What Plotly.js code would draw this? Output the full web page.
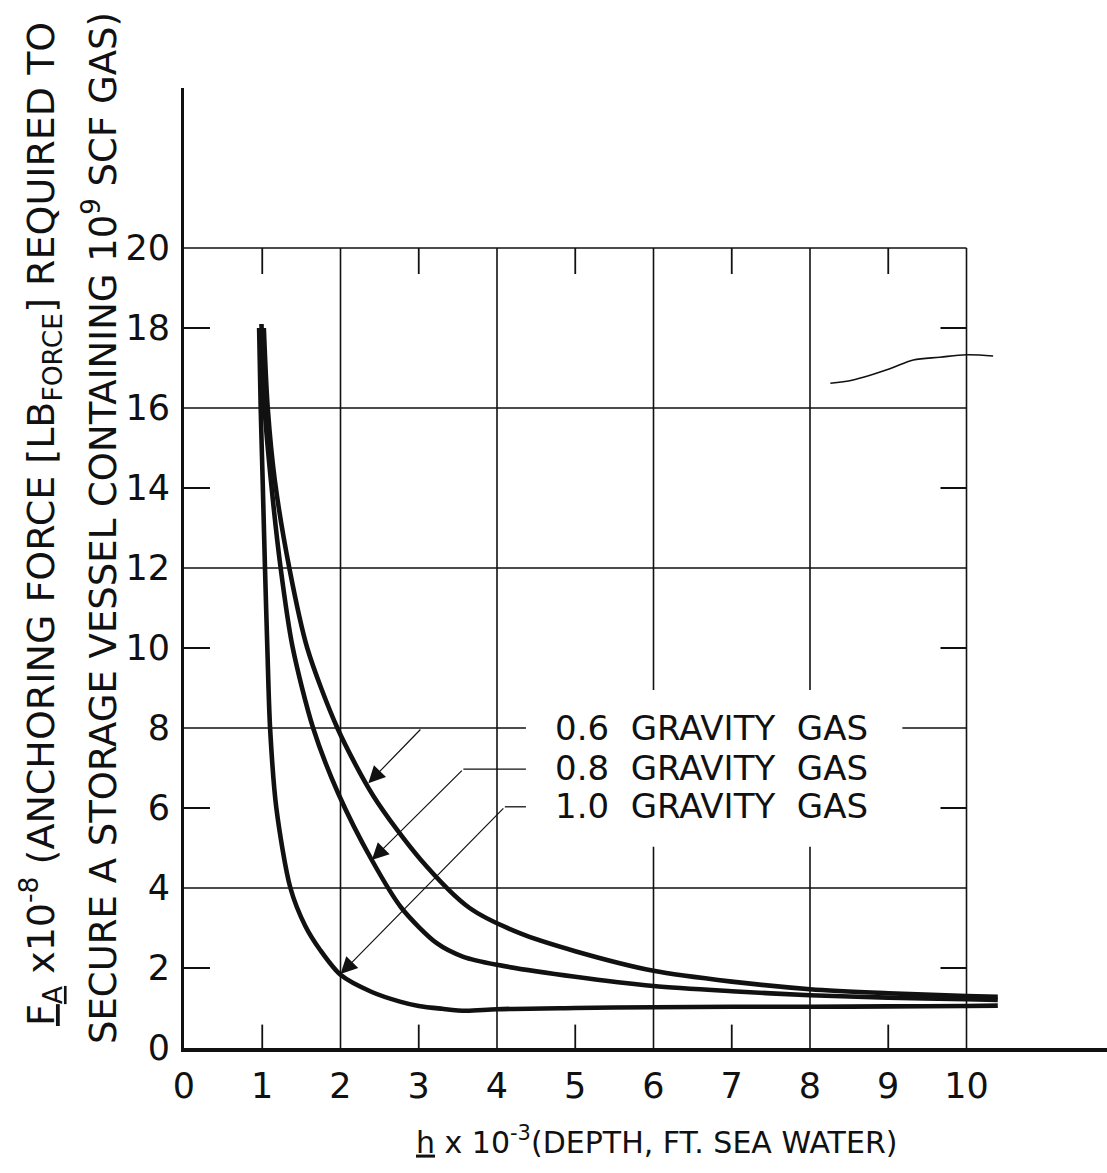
<!DOCTYPE html>
<html><head><meta charset="utf-8">
<script src="https://cdn.plot.ly/plotly-3.0.1.min.js"></script>
<style>html,body{margin:0;padding:0;background:#fff}#chart{width:1107px;height:1173px}</style>
</head><body><div id="chart"></div>
<script>
// ---- data ----
const xTickVals = [0,1,2,3,4,5,6,7,8,9,10];
const xTickText = ['0','1','2','3','4','5','6','7','8','9','10'];
const yTickVals = [0,2,4,6,8,10,12,14,16,18,20];
const yTickText = ['0','2','4','6','8','10','12','14','16','18','20'];
const gridX = [2,4,6,8,10];
const gridY = [4,8,12,16,20];
const minorX = [1,3,5,7,9];
const minorY = [2,6,10,14,18];

// 0.6 gravity gas
const x06 = [1.02,1.07,1.16,1.346,1.575,1.96,2.42,3.02,3.65,4.29,5.0,6.0,7.0,8.0,9.0,10.0,10.4];
const y06 = [18.0,16.0,14.2,12.0,10.0,8.0,6.3,4.72,3.5,2.87,2.42,1.93,1.66,1.47,1.37,1.3,1.28];
// 0.8 gravity gas
const x08 = [0.99,1.03,1.11,1.235,1.387,1.65,1.97,2.40,2.78,3.23,3.57,4.0,5.0,6.0,7.0,8.0,9.0,10.0,10.4];
const y08 = [18.1,16.0,14.2,12.0,10.03,8.0,6.37,4.7,3.5,2.62,2.28,2.08,1.78,1.55,1.42,1.32,1.26,1.22,1.2];
// 1.0 gravity gas
const x10 = [0.96,0.98,1.005,1.035,1.065,1.10,1.18,1.36,1.55,1.74,2.0,2.4,2.76,3.0,3.3,3.6,4.0,5.0,6.0,7.0,8.0,9.0,10.0,10.4];
const y10 = [18.0,16.0,14.2,12.0,10.0,8.0,6.0,4.0,3.05,2.45,1.83,1.4,1.16,1.05,0.98,0.93,0.97,1.0,1.02,1.03,1.03,1.04,1.05,1.06];
// stray pen mark, upper right
const xStray = [8.26,8.55,9.02,9.32,9.66,10.0,10.34];
const yStray = [16.62,16.7,16.98,17.2,17.27,17.33,17.3];

// labels and their leader lines
const seriesLabels = ['0.6&nbsp;&nbsp;GRAVITY&nbsp;&nbsp;GAS','0.8&nbsp;&nbsp;GRAVITY&nbsp;&nbsp;GAS','1.0&nbsp;&nbsp;GRAVITY&nbsp;&nbsp;GAS'];
const labelY = [8.0, 7.0, 6.05];
const leaderElbowX = [3.04, 3.57, 4.10];
const leaderElbowY = [8.0, 6.97, 6.03];
const arrowTipX = [2.355, 2.40, 2.0];
const arrowTipY = [6.62, 4.7, 1.85];

// ---- layout geometry ----
const W = 1107, H = 1173;
const mL = 184, mR = 0, mT = 88, mB = 125;
const xMax = (W - mL - mR) / 78.25;
const yMax = 24;
const boxX0 = 4.37, boxX1 = 9.18, boxY0 = 5.03, boxY1 = 8.95;
const labelX = 4.72;

const FONT = '"DejaVu Sans", "Liberation Sans", sans-serif';
const INK = '#111';

const shapes = [];
gridX.forEach(v => shapes.push({type:'line', layer:'below', xref:'x', yref:'y', x0:v, x1:v, y0:0, y1:20, line:{color:INK, width:1.6}}));
gridY.forEach(v => shapes.push({type:'line', layer:'below', xref:'x', yref:'y', x0:0, x1:10, y0:v, y1:v, line:{color:INK, width:1.6}}));
// white label box interrupting the grid
shapes.push({type:'rect', layer:'below', xref:'x', yref:'y', x0:boxX0, x1:boxX1, y0:boxY0, y1:boxY1, fillcolor:'#fff', line:{width:0}});
// inward minor ticks
const tX = 26/78.25, tY = 26/40;
minorX.forEach(v => {
  shapes.push({type:'line', xref:'x', yref:'y', x0:v, x1:v, y0:0, y1:tY*0.9, line:{color:INK, width:1.8}});
  shapes.push({type:'line', xref:'x', yref:'y', x0:v, x1:v, y0:20, y1:20-tY, line:{color:INK, width:1.8}});
});
minorY.forEach(v => {
  shapes.push({type:'line', xref:'x', yref:'y', x0:0, x1:tX, y0:v, y1:v, line:{color:INK, width:2}});
  shapes.push({type:'line', xref:'x', yref:'y', x0:10-tX, x1:10, y0:v, y1:v, line:{color:INK, width:2}});
});
// horizontal parts of the leaders (0.8 and 1.0; 0.6 runs along the grid line)
[1,2].forEach(i => shapes.push({type:'line', xref:'x', yref:'y', x0:leaderElbowX[i], x1:boxX0, y0:leaderElbowY[i], y1:leaderElbowY[i], line:{color:INK, width:1.3}}));

const annotations = [];
seriesLabels.forEach((t,i) => annotations.push({
  xref:'x', yref:'y', x:labelX, y:labelY[i], xanchor:'left', yanchor:'middle',
  text:t, showarrow:false, font:{family:FONT, size:34, color:INK}
}));
arrowTipX.forEach((v,i) => annotations.push({
  xref:'x', yref:'y', axref:'x', ayref:'y', x:v, y:arrowTipY[i], ax:leaderElbowX[i], ay:leaderElbowY[i],
  text:'', showarrow:true, arrowhead:2, arrowsize:2.8, arrowwidth:1.2, arrowcolor:INK, standoff:0
}));
// axis titles
annotations.push({
  xref:'paper', yref:'paper', x:(40-mL)/(W-mL-mR), y:(1048-524)/(H-mT-mB), xanchor:'center', yanchor:'middle',
  textangle:-90, showarrow:false,
  text:'<u>F<sub>A</sub></u> x10<sup>-8</sup> (ANCHORING FORCE [LB<sub>FORCE</sub>] REQUIRED TO',
  font:{family:FONT, size:38, color:INK}
});
annotations.push({
  xref:'paper', yref:'paper', x:(100-mL)/(W-mL-mR), y:(1048-528)/(H-mT-mB), xanchor:'center', yanchor:'middle',
  textangle:-90, showarrow:false,
  text:'SECURE A STORAGE VESSEL CONTAINING 10<sup>9</sup> SCF GAS)',
  font:{family:FONT, size:37, color:INK}
});
annotations.push({
  xref:'paper', yref:'paper', x:(656-mL)/(W-mL-mR), y:(1048-1140)/(H-mT-mB), xanchor:'center', yanchor:'middle',
  showarrow:false,
  text:'<u>h</u> x 10<sup>-3</sup>(DEPTH, FT. SEA WATER)',
  font:{family:FONT, size:30, color:INK}
});

const curve = (x,y,name,w) => ({x, y, name, type:'scatter', mode:'lines', line:{color:INK, width:w, shape:'spline', smoothing:0.8}, hoverinfo:'skip'});
const data = [
  curve(x06, y06, '0.6 gravity gas', 4.6),
  curve(x08, y08, '0.8 gravity gas', 4.6),
  curve(x10, y10, '1.0 gravity gas', 4.6),
  {x:xStray, y:yStray, type:'scatter', mode:'lines', line:{color:INK, width:1.6, shape:'spline'}, hoverinfo:'skip', name:'mark'}
];

const layout = {
  width:W, height:H, margin:{l:mL, r:mR, t:mT, b:mB, pad:0},
  paper_bgcolor:'#fff', plot_bgcolor:'#fff', showlegend:false,
  font:{family:FONT, color:INK},
  xaxis:{range:[0,xMax], tickvals:xTickVals, ticktext:xTickText, ticks:'', showgrid:false, zeroline:false,
         showline:true, linewidth:3.5, linecolor:INK, ticklabelstandoff:4, tickfont:{family:FONT, size:35, color:INK}},
  yaxis:{range:[0,yMax], tickvals:yTickVals, ticktext:yTickText, ticks:'', showgrid:false, zeroline:false,
         showline:true, linewidth:3, linecolor:INK, ticklabelstandoff:4, tickfont:{family:FONT, size:35, color:INK}},
  shapes, annotations
};
Plotly.newPlot('chart', data, layout, {staticPlot:true, displayModeBar:false});
</script></body></html>
